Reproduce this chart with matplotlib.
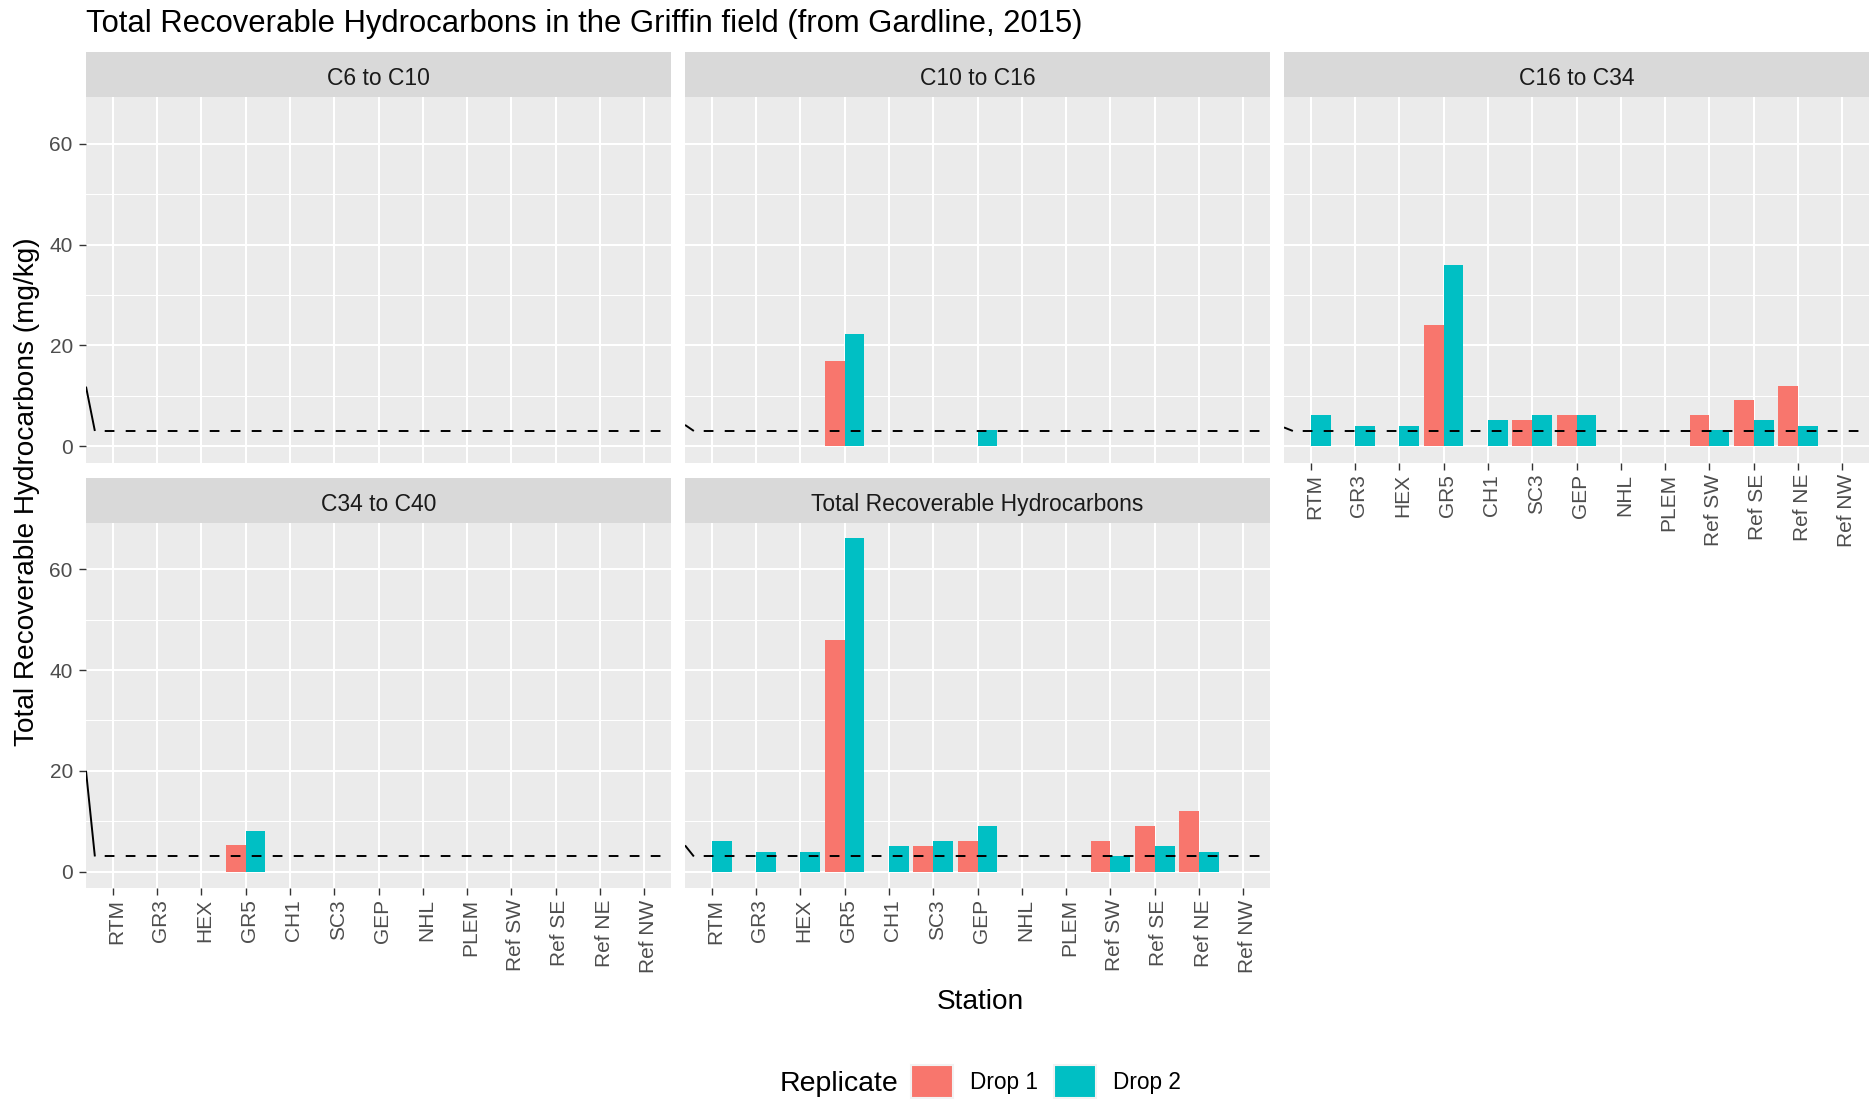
import matplotlib

matplotlib.use('Agg')
import matplotlib.pyplot as plt
import matplotlib.transforms as mtransforms
from matplotlib.patches import Patch
import numpy as np

plt.rcParams['font.family'] = ['Liberation Sans', 'DejaVu Sans']

nan = np.nan

stations = ['RTM', 'GR3', 'HEX', 'GR5', 'CH1', 'SC3', 'GEP', 'NHL', 'PLEM',
            'Ref SW', 'Ref SE', 'Ref NE', 'Ref NW']
fractions = ['C6 to C10', 'C10 to C16', 'C16 to C34', 'C34 to C40',
             'Total Recoverable Hydrocarbons']
replicates = ['Drop 1', 'Drop 2']

# Hydrocarbon concentrations (mg/kg), NaN = below detection
c6_c10_drop1 = [nan, nan, nan, nan, nan, nan, nan, nan, nan, nan, nan, nan, nan]
c6_c10_drop2 = [nan, nan, nan, nan, nan, nan, nan, nan, nan, nan, nan, nan, nan]
c10_c16_drop1 = [nan, nan, nan, 16.9, nan, nan, nan, nan, nan, nan, nan, nan, nan]
c10_c16_drop2 = [nan, nan, nan, 22.2, nan, nan, 3.1, nan, nan, nan, nan, nan, nan]
c16_c34_drop1 = [nan, nan, nan, 24.0, nan, 5.1, 6.1, nan, nan, 6.1, 9.1, 12.0, nan]
c16_c34_drop2 = [6.1, 3.9, 3.9, 36.0, 5.1, 6.1, 6.1, nan, nan, 3.1, 5.1, 3.9, nan]
c34_c40_drop1 = [nan, nan, nan, 5.2, nan, nan, nan, nan, nan, nan, nan, nan, nan]
c34_c40_drop2 = [nan, nan, nan, 8.1, nan, nan, nan, nan, nan, nan, nan, nan, nan]
trh_drop1 = [nan, nan, nan, 46.0, nan, 5.1, 6.1, nan, nan, 6.1, 9.0, 12.0, nan]
trh_drop2 = [6.1, 3.9, 3.9, 66.2, 5.1, 6.1, 9.1, nan, nan, 3.1, 5.1, 3.9, nan]

# detection threshold line and where the line enters each panel
threshold = 3.0
line_entry = [11.8, 4.2, 3.7, 20.0, 5.2]

series = [
    (c6_c10_drop1, c6_c10_drop2),
    (c10_c16_drop1, c10_c16_drop2),
    (c16_c34_drop1, c16_c34_drop2),
    (c34_c40_drop1, c34_c40_drop2),
    (trh_drop1, trh_drop2),
]
colors = ['#F8766D', '#00BFC4']

W, H = 1870, 1100
fig = plt.figure(figsize=(W / 100, H / 100), dpi=100)


def rect(left, top, width, height):
    return [left / W, 1 - (top + height) / H, width / W, height / H]


col_left = [86, 685, 1284]
col_w = 585
strip_top = [52, 477.5]
strip_h = 45
panel_h = 365.7

x = np.arange(1, len(stations) + 1)
bw = 0.45
label_shift = mtransforms.ScaledTranslation(4 / 100, 0, fig.dpi_scale_trans)

for i, name in enumerate(fractions):
    row, col = divmod(i, 3)
    left = col_left[col]
    st = strip_top[row]

    sax = fig.add_axes(rect(left, st, col_w, strip_h))
    sax.set_facecolor('#D9D9D9')
    sax.set_xticks([])
    sax.set_yticks([])
    for s in sax.spines.values():
        s.set_visible(False)
    sax.text(0.5, 0.41, name, ha='center', va='center', fontsize=16.5,
             color='#1A1A1A', transform=sax.transAxes)

    ax = fig.add_axes(rect(left, st + strip_h, col_w, panel_h))
    ax.set_facecolor('#EBEBEB')
    for s in ax.spines.values():
        s.set_visible(False)
    ax.set_xlim(0.4, len(stations) + 0.6)
    ax.set_ylim(-3.3, 69.3)

    # grid
    for yv in [10, 30, 50]:
        ax.axhline(yv, color='white', lw=0.75, zorder=0)
    for yv in [0, 20, 40, 60]:
        ax.axhline(yv, color='white', lw=1.5, zorder=0)
    for xv in x:
        ax.axvline(xv, color='white', lw=1.5, zorder=0)

    d1, d2 = series[i]
    ax.bar(x - bw / 2, np.nan_to_num(d1), width=bw, color=colors[0], zorder=2)
    ax.bar(x + bw / 2, np.nan_to_num(d2), width=bw, color=colors[1], zorder=2)

    ax.plot([0.4, 0.6], [line_entry[i], threshold], color='black', lw=1.4,
            zorder=3, solid_capstyle='butt')
    ax.plot([0.6, len(stations) + 0.6], [threshold, threshold], color='black',
            lw=1.4, linestyle=(5.8, (5, 5.8)), zorder=3)

    ax.set_yticks([0, 20, 40, 60])
    ax.set_xticks(x)
    ax.tick_params(axis='both', length=5, width=1.0, color='#333333',
                   labelsize=15, labelcolor='#4D4D4D')
    ax.tick_params(axis='y', pad=4.5)
    ax.tick_params(axis='x', pad=3)
    if col == 0:
        ax.set_yticklabels(['0', '20', '40', '60'])
    else:
        ax.tick_params(axis='y', length=0, labelleft=False)
    if row == 1 or col == 2:
        ax.set_xticklabels(stations, rotation=90, ha='center', va='top')
        for lab in ax.get_xticklabels():
            lab.set_transform(lab.get_transform() + label_shift)
    else:
        ax.tick_params(axis='x', length=0, labelbottom=False)

fig.text(86 / W, 1 - 32 / H, 'Total Recoverable Hydrocarbons in the Griffin field (from Gardline, 2015)',
         fontsize=22.3, color='black', ha='left', va='baseline')
fig.text(27 / W, 1 - 492 / H, 'Total Recoverable Hydrocarbons (mg/kg)',
         rotation=90, fontsize=20.2, ha='center', va='center')
fig.text(980 / W, 1 - 1002 / H, 'Station', fontsize=20.2, ha='center', va='center')

# legend along the bottom
fig.text(898 / W, 1 - 1084 / H, 'Replicate', fontsize=20.5, ha='right', va='center')
handles = [Patch(facecolor=c, edgecolor='#F2F2F2', lw=1.5) for c in colors]
fig.legend(handles, replicates, ncol=2, loc='center left',
           bbox_to_anchor=(911 / W, 1 - 1081.5 / H), frameon=False, fontsize=16.3,
           handlelength=1.85, handleheight=1.85, handletextpad=0.75,
           columnspacing=0.7, borderpad=0, borderaxespad=0)

fig.savefig('out.png', dpi=100)
plt.close(fig)
